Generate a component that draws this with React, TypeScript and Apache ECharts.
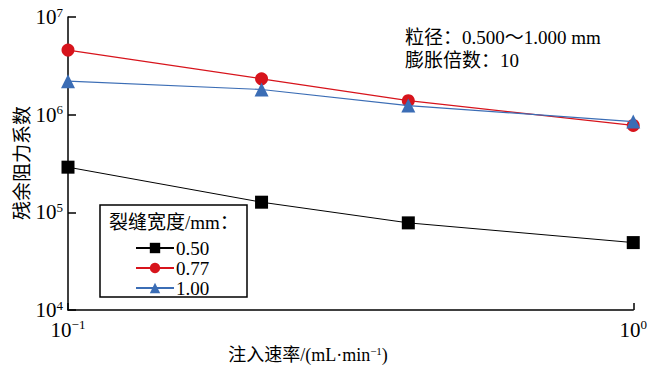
import React, { useEffect, useRef } from "react";
import * as echarts from "echarts";

const rates = [0.1, 0.22, 0.4, 1.0];
const w050 = [2.9e5, 1.27e5, 7.8e4, 4.9e4];
const w077 = [4.58e6, 2.33e6, 1.39e6, 7.76e5];
const w100 = [2.2e6, 1.81e6, 1.24e6, 8.5e5];
const seriesNames = ["0.50", "0.77", "1.00"];
const legendTitle = "裂缝宽度/mm：";
const noteLines = ["粒径：0.500～1.000 mm", "膨胀倍数：10"];
const xTitle = "注入速率/(mL·min{sup|−1})";
const yTitle = "残余阻力系数";

const FONT = "'Liberation Serif', 'Noto Sans CJK SC', serif";

export default function App() {
  const ref = useRef<HTMLDivElement>(null);
  useEffect(() => {
    document.body.style.margin = "0";
    if (!ref.current) return;
    const chart = echarts.init(ref.current, null, { renderer: "svg" });
    const pair = (ys: number[]) => rates.map((x, i) => [x, ys[i]]);
    const supFmt = (v: number) => {
      const e = Math.round(Math.log10(v));
      return "10{sup|" + (e < 0 ? "−" + -e : String(e)) + "}";
    };
    const supStyle = { fontSize: 13, verticalAlign: "top", padding: [0, 0, 10, 0], fontFamily: FONT, color: "#000" };
    const axisLine = { show: true, lineStyle: { color: "#000", width: 1.5 } };
    chart.setOption({
      animation: false,
      backgroundColor: "#fff",
      textStyle: { fontFamily: FONT },
      grid: { left: 68, right: 16, top: 17, bottom: 60, containLabel: false },
      xAxis: {
        type: "log",
        logBase: 10,
        min: 0.1,
        max: 1,
        axisLine,
        axisTick: { show: true, inside: true, length: 7, lineStyle: { color: "#000", width: 1.5 } },
        minorTick: { show: false },
        splitLine: { show: false },
        axisLabel: {
          formatter: supFmt,
          color: "#000",
          fontFamily: FONT,
          fontSize: 21,
          margin: 8,
          rich: { sup: supStyle },
        },
      },
      yAxis: {
        type: "log",
        logBase: 10,
        min: 1e4,
        max: 1e7,
        axisLine,
        axisTick: { show: true, inside: true, length: 8, lineStyle: { color: "#000", width: 1.5 } },
        splitLine: { show: false },
        axisLabel: {
          formatter: supFmt,
          color: "#000",
          fontFamily: FONT,
          fontSize: 21,
          margin: 5,
          rich: { sup: supStyle },
        },
      },
      legend: {
        orient: "vertical",
        left: 130,
        top: 233,
        itemWidth: 38,
        itemHeight: 13,
        itemGap: 0,
        textStyle: { fontFamily: FONT, fontSize: 19, lineHeight: 20, color: "#000", padding: [0, 0, 0, -3] },
        data: seriesNames,
      },
      graphic: [
        {
          type: "rect",
          shape: { x: 100, y: 205, width: 147, height: 92 },
          style: { fill: "#fff", stroke: "#000", lineWidth: 1.5 },
          z: -1,
        },
        {
          type: "text",
          x: 109,
          y: 222,
          style: { text: legendTitle, font: "19px " + FONT, fill: "#000", verticalAlign: "middle" },
        },
        {
          type: "text",
          x: 405,
          y: 37,
          style: { text: noteLines[0], font: "19px " + FONT, fill: "#000", verticalAlign: "middle" },
        },
        {
          type: "text",
          x: 405,
          y: 60,
          style: { text: noteLines[1], font: "19px " + FONT, fill: "#000", verticalAlign: "middle" },
        },
        {
          type: "text",
          x: 22,
          y: 163,
          rotation: Math.PI / 2,
          style: { text: yTitle, font: "19px " + FONT, fill: "#000", align: "center", verticalAlign: "middle" },
        },
        {
          type: "text",
          x: 308,
          y: 355,
          style: {
            text: xTitle,
            font: "18px " + FONT,
            fill: "#000",
            align: "center",
            verticalAlign: "middle",
            rich: { sup: { fontSize: 11, verticalAlign: "top", padding: [0, 0, 9, 0], fill: "#000", fontFamily: FONT } },
          },
        },
      ],
      series: [
        {
          name: seriesNames[0],
          type: "line",
          data: pair(w050),
          symbol: "rect",
          symbolSize: 13,
          itemStyle: { color: "#000" },
          lineStyle: { color: "#000", width: 1 },
          z: 3,
        },
        {
          name: seriesNames[1],
          type: "line",
          data: pair(w077),
          symbol: "circle",
          symbolSize: 13,
          itemStyle: { color: "#d7141c" },
          lineStyle: { color: "#d7141c", width: 1.2 },
          z: 3,
        },
        {
          name: seriesNames[2],
          type: "line",
          data: pair(w100),
          symbol: "triangle",
          symbolSize: 14,
          itemStyle: { color: "#3b6db5" },
          lineStyle: { color: "#3b6db5", width: 1.2 },
          z: 4,
        },
      ],
    });
    return () => chart.dispose();
  }, []);
  return <div ref={ref} style={{ width: 650, height: 370 }} />;
}
